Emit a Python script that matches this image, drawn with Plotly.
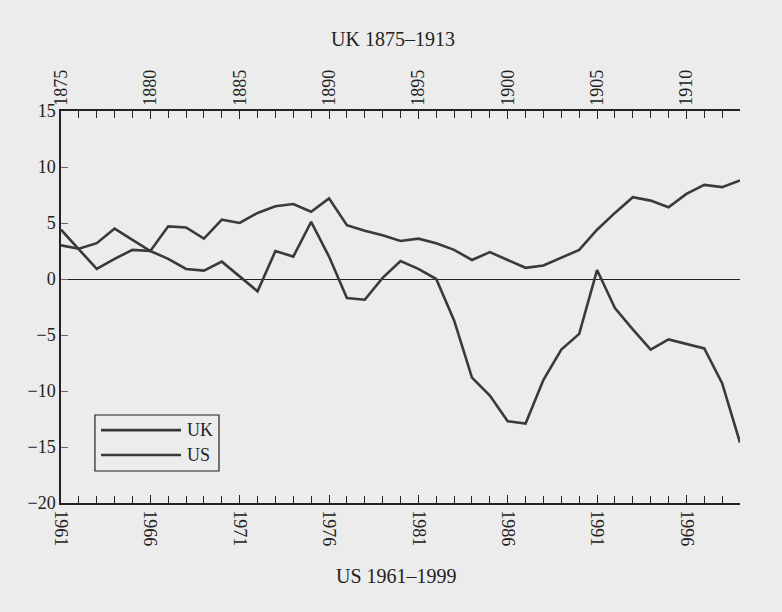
import plotly.graph_objects as go

# ---- data ----
UK_YEARS = list(range(1875, 1914))
US_YEARS = list(range(1961, 2000))

UK_VALUES = [3.0, 2.7, 3.2, 4.5, 3.5, 2.5, 4.7, 4.6, 3.6, 5.3,
             5.0, 5.9, 6.5, 6.7, 6.0, 7.2, 4.8, 4.3, 3.9, 3.4,
             3.6, 3.2, 2.6, 1.7, 2.4, 1.7, 1.0, 1.2, 1.9, 2.6,
             4.4, 5.9, 7.3, 7.0, 6.4, 7.6, 8.4, 8.2, 8.8]

US_VALUES = [4.4, 2.6, 0.9, 1.8, 2.6, 2.5, 1.8, 0.9, 0.75, 1.55,
             0.2, -1.1, 2.5, 2.0, 5.1, 2.0, -1.7, -1.85, 0.1, 1.6,
             0.9, 0.0, -3.7, -8.8, -10.4, -12.7, -12.9, -9.0, -6.3, -4.9,
             0.8, -2.6, -4.5, -6.3, -5.4, -5.8, -6.2, -9.3, -14.6]

UK_TICKS = [1875, 1880, 1885, 1890, 1895, 1900, 1905, 1910]
UK_TICK_LABELS = ["1875", "1880", "1885", "1890", "1895", "1900", "1905", "1910"]
US_TICKS = [1961, 1966, 1971, 1976, 1981, 1986, 1991, 1996]
US_TICK_LABELS = ["1961", "1966", "1971", "1976", "1981", "1986", "1991", "1996"]
Y_TICKS = [15, 10, 5, 0, -5, -10, -15, -20]

SERIES_NAMES = ["UK", "US"]
TOP_TITLE = "UK 1875–1913"
BOTTOM_TITLE = "US 1961–1999"

FONT = "Liberation Serif"
INK = "#222222"
LINE = "#3a3a3a"
BG = "#ececec"

fig = go.Figure()
fig.add_trace(go.Scatter(x=UK_YEARS, y=UK_VALUES, mode="lines", name=SERIES_NAMES[0],
                         xaxis="x2", yaxis="y",
                         line=dict(color=LINE, width=2.6), showlegend=False))
fig.add_trace(go.Scatter(x=US_YEARS, y=US_VALUES, mode="lines", name=SERIES_NAMES[1],
                         xaxis="x", yaxis="y",
                         line=dict(color=LINE, width=2.6), showlegend=False))

common_x = dict(showgrid=False, zeroline=False, showline=True, linecolor=INK, linewidth=1.5,
                ticks="inside", ticklen=8, tickwidth=1.2, tickcolor=INK,
                minor=dict(ticks="inside", dtick=1, ticklen=7, tickwidth=1.2, tickcolor=INK, showgrid=False),
                tickfont=dict(family=FONT, size=18, color=INK))

fig.update_layout(
    width=782, height=612,
    margin=dict(l=53, r=50, t=103, b=117),
    paper_bgcolor=BG, plot_bgcolor=BG,
    font=dict(family=FONT, size=16, color=INK),
    xaxis=dict(range=[US_YEARS[0], US_YEARS[-1]], tickvals=US_TICKS, ticktext=US_TICK_LABELS,
               tickangle=90, side="bottom", ticklabelstandoff=2, **common_x),
    xaxis2=dict(range=[UK_YEARS[0], UK_YEARS[-1]], tickvals=UK_TICKS, ticktext=UK_TICK_LABELS,
                tickangle=-90, side="top", overlaying="x", ticklabelstandoff=0, **common_x),
    yaxis=dict(range=[-20, 15], tickvals=Y_TICKS, showgrid=False,
               zeroline=True, zerolinecolor=INK, zerolinewidth=1.2,
               showline=True, linecolor=INK, linewidth=1.5,
               ticks="inside", ticklen=7, tickcolor="#666666",
               tickfont=dict(family=FONT, size=18, color=INK)),
)

# axis titles as annotations
fig.add_annotation(text=TOP_TITLE, xref="paper", yref="paper", x=0.489, y=1.0, yshift=72,
                   yanchor="middle", showarrow=False, font=dict(family=FONT, size=20, color=INK))
fig.add_annotation(text=BOTTOM_TITLE, xref="paper", yref="paper", x=0.494, y=0.0, yshift=-73,
                   yanchor="middle", showarrow=False, font=dict(family=FONT, size=20, color=INK))

# legend box (drawn to match the long line samples of the original)
fig.add_shape(type="rect", xref="paper", yref="paper", x0=0.050, x1=0.2327, y0=0.0816, y1=0.2245,
              line=dict(color=INK, width=1.2), fillcolor=BG)
for name, yy in zip(SERIES_NAMES, [0.186, 0.1224]):
    fig.add_shape(type="line", xref="paper", yref="paper", x0=0.0589, x1=0.1767, y0=yy, y1=yy,
                  line=dict(color=LINE, width=2.6))
    fig.add_annotation(text=name, xref="paper", yref="paper", x=0.183, y=yy, xanchor="left",
                       yanchor="middle", showarrow=False, font=dict(family=FONT, size=18, color=INK))

fig.write_html("out.html", post_script="document.body.style.background='%s';" % BG)
